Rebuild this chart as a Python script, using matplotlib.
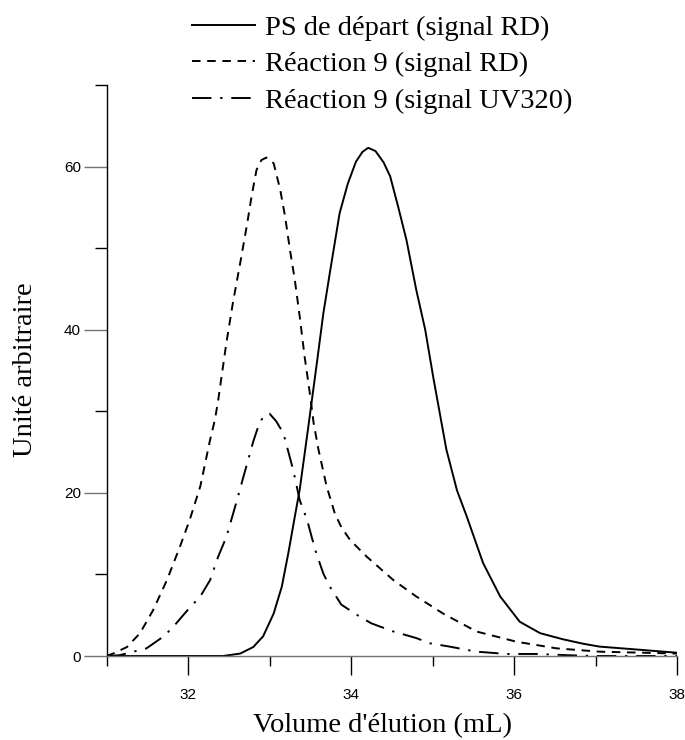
import numpy as np
import matplotlib.pyplot as plt
from matplotlib.ticker import MultipleLocator

vol_ps = [31.0, 32.0, 32.43, 32.64, 32.8, 32.92, 33.05, 33.15, 33.23, 33.31,
          33.37, 33.47, 33.58, 33.66, 33.74, 33.86, 33.96, 34.06, 34.14, 34.21,
          34.3, 34.4, 34.48, 34.58, 34.68, 34.8, 34.91, 35.01, 35.17, 35.3,
          35.42, 35.62, 35.83, 36.07, 36.32, 36.6, 36.85, 37.05, 37.5, 38.0]
rd_ps = [0, 0, 0, 0.3, 1.1, 2.4, 5.2, 8.5, 12.6, 17.1,
         20.4, 27.7, 35.9, 42.0, 47.0, 54.3, 57.9, 60.6, 61.8, 62.3,
         61.9, 60.5, 58.8, 55.0, 51.0, 44.9, 40.0, 34.1, 25.3, 20.3,
         17.1, 11.4, 7.3, 4.2, 2.8, 2.05, 1.5, 1.15, 0.8, 0.4]

vol_r9 = [31.0, 31.08, 31.25, 31.41, 31.57, 31.74, 31.9, 32.02, 32.15, 32.27,
          32.33, 32.37, 32.47, 32.55, 32.64, 32.72, 32.78, 32.84, 32.9, 32.96,
          33.05, 33.13, 33.19, 33.25, 33.31, 33.37, 33.43, 33.5, 33.54, 33.6,
          33.7, 33.8, 33.88, 33.99, 34.19, 34.52, 34.8, 35.13, 35.54, 36.03,
          36.52, 37.05, 38.0]
rd_r9 = [0, 0.3, 1.1, 2.8, 5.6, 9.3, 13.4, 16.7, 20.8, 26.5,
         29.0, 31.4, 38.4, 43.3, 48.2, 52.7, 56.4, 59.6, 60.8, 61.1,
         60.4, 57.2, 53.9, 49.8, 46.1, 41.6, 36.7, 31.8, 28.6, 25.3,
         20.8, 17.5, 15.8, 14.2, 12.2, 9.3, 7.3, 5.2, 3.0, 1.75,
         0.94, 0.53, 0.3]

vol_uv = [31.0, 31.16, 31.49, 31.7, 31.82, 32.0, 32.15, 32.27, 32.37, 32.47,
          32.6, 32.68, 32.8, 32.88, 32.95, 33.0, 33.08, 33.17, 33.29, 33.37,
          33.46, 33.56, 33.66, 33.74, 33.88, 34.11, 34.25, 34.52, 34.8, 34.97,
          35.21, 35.54, 35.91, 36.28, 36.65, 37.0, 38.0]
uv_r9 = [0, 0.1, 0.94, 2.4, 3.6, 5.7, 7.3, 9.3, 12.2, 14.6,
         19.1, 22.0, 26.3, 28.7, 29.6, 29.7, 28.8, 27.3, 22.8, 19.1,
         16.7, 13.0, 10.1, 8.5, 6.3, 4.8, 4.0, 3.0, 2.2, 1.55,
         1.15, 0.53, 0.25, 0.25, 0.1, 0, 0]

labels = ['PS de départ (signal RD)', 'Réaction 9 (signal RD)',
          'Réaction 9 (signal UV320)']

serif = ['Liberation Serif', 'DejaVu Serif']
sans = ['Liberation Sans', 'DejaVu Sans']

fig = plt.figure(figsize=(6.85, 7.4), dpi=100)
ax = fig.add_axes([106.6 / 685, 1 - 656 / 740, 570.4 / 685, 571 / 740])

lw = 1.4
l1, = ax.plot(vol_ps, rd_ps, color='black', lw=lw, label=labels[0])
l2, = ax.plot(vol_r9, rd_r9, color='black', lw=lw, dashes=(4.4, 3.4), label=labels[1])
l3, = ax.plot(vol_uv, uv_r9, color='black', lw=lw, dashes=(10, 4.5, 1.2, 4.5), label=labels[2])

ax.set_xlim(31, 38)
ax.set_ylim(0, 70)
for s in ['top', 'right']:
    ax.spines[s].set_visible(False)
ax.spines['left'].set_linewidth(1.0)
ax.spines['bottom'].set_linewidth(1.0)
ax.spines['bottom'].set_color('0.45')

ax.xaxis.set_major_locator(MultipleLocator(2))
ax.xaxis.set_minor_locator(MultipleLocator(1))
ax.yaxis.set_major_locator(MultipleLocator(20))
ax.yaxis.set_minor_locator(MultipleLocator(10))
ax.tick_params(axis='x', which='major', length=13.7, width=1.0, pad=9, direction='out')
ax.tick_params(axis='x', which='minor', length=7.2, width=1.0, direction='out')
ax.tick_params(axis='y', which='major', length=16.5, width=1.0, pad=2, color='0.45', direction='out')
ax.tick_params(axis='y', which='minor', length=8.3, width=1.0, direction='out')
for t in ax.get_xticklabels() + ax.get_yticklabels():
    t.set_family(sans)
    t.set_fontsize(11)

ax.set_xlabel("Volume d'élution (mL)", family=serif, fontsize=20.5, va='center')
ax.xaxis.set_label_coords(0.483, -0.1225)
ax.set_ylabel('Unité arbitraire', family=serif, fontsize=20.5, va='center')
ax.yaxis.set_label_coords(-0.142, 0.501)

ax.legend(handles=[l1, l2, l3], loc='upper left', bbox_to_anchor=(192 / 685, 0.98),
          bbox_transform=fig.transFigure, frameon=False, prop={'family': serif, 'size': 20.5},
          handlelength=2.2, handletextpad=0.38, labelspacing=0.37, borderpad=0,
          borderaxespad=0)

fig.savefig('out.png', dpi=100)
